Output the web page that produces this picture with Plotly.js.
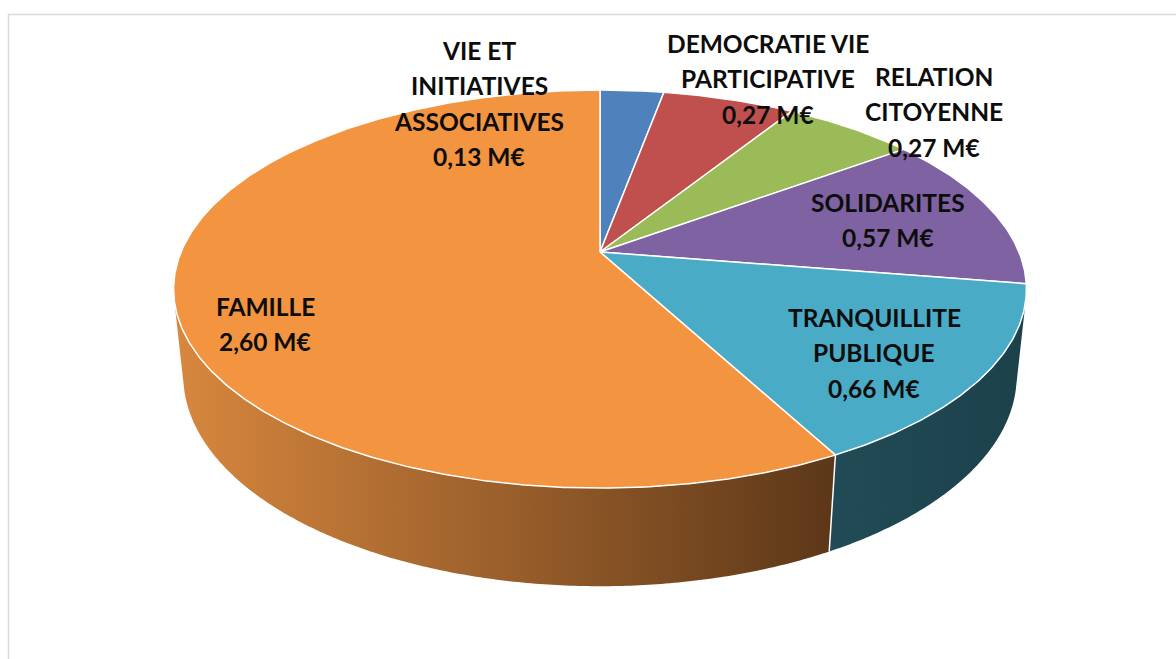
<!DOCTYPE html>
<html>
<head>
<meta charset="utf-8">
<script src="https://cdn.plot.ly/plotly-3.0.1.min.js"></script>
<style>html,body{margin:0;padding:0;background:#fff;}#chart{width:1176px;height:659px;}</style>
</head>
<body>
<div id="chart"></div>
<script>
// ---- data ----
const categories = ["VIE ET INITIATIVES ASSOCIATIVES", "DEMOCRATIE VIE PARTICIPATIVE", "RELATION CITOYENNE", "SOLIDARITES", "TRANQUILLITE PUBLIQUE", "FAMILLE"];
const labelLines = [["VIE ET", "INITIATIVES", "ASSOCIATIVES"], ["DEMOCRATIE VIE", "PARTICIPATIVE"], ["RELATION", "CITOYENNE"], ["SOLIDARITES"], ["TRANQUILLITE", "PUBLIQUE"], ["FAMILLE"]];
const values = [0.13, 0.27, 0.27, 0.57, 0.66, 2.60];
const unit = " M€";

// ---- style ----
const topColors = ["#4F81BD", "#C0504D", "#9BBB59", "#7E62A1", "#4AABC6", "#F39441"];
const sideColors = [
  [[0, "#2C4A6E"], [1, "#1E3550"]],
  [[0, "#7A2E2C"], [1, "#55201F"]],
  [[0, "#5E7434"], [1, "#425226"]],
  [[0, "#4C3A63"], [1, "#352846"]],
  [[0, "#214B56"], [1, "#1C414B"]],
  [[0, "#D8873E"], [1, "#5C3718"]]
];
const labelPos = [[479, 50], [768, 43], [934, 76], [888, 202], [874, 317], [265, 306]];
const lineGap = 35.5;

// projection of a tilted disc (perspective)
const cx = 600, cy = 252, f = 1998, sA = 0.4585, cA = Math.sqrt(1 - sA * sA), D = 4.769, H = 0.2347;
function proj(deg, Y) {
  const t = deg * Math.PI / 180;
  const X = Math.sin(t), Z = Math.cos(t);
  const yc = Y * cA + Z * sA;
  const zc = D + Z * cA - Y * sA;
  return [cx + f * X / zc, cy - f * yc / zc];
}
const visMin = Math.acos(-1 / (D * cA)) * 180 / Math.PI;
const visMax = 360 - visMin;

const total = values.reduce((a, b) => a + b, 0);
const bounds = [0];
values.forEach(v => bounds.push(bounds[bounds.length - 1] + v / total * 360));

function arc(a0, a1, Y) {
  const pts = [];
  const n = Math.max(2, Math.ceil(Math.abs(a1 - a0) / 0.5));
  for (let k = 0; k <= n; k++) pts.push(proj(a0 + (a1 - a0) * k / n, Y));
  return pts;
}

const traces = [];
// sides
values.forEach((v, i) => {
  const a0 = Math.max(bounds[i], visMin), a1 = Math.min(bounds[i + 1], visMax);
  if (a1 <= a0) return;
  const pts = arc(a0, a1, 0).concat(arc(a1, a0, -H));
  pts.push(pts[0]);
  traces.push({
    type: "scatter", mode: "none", x: pts.map(p => p[0]), y: pts.map(p => p[1]),
    fill: "toself", fillcolor: sideColors[i][0][1],
    fillgradient: {type: "horizontal", colorscale: sideColors[i]},
    hoverinfo: "skip", showlegend: false
  });
});
// vertical edges between visible sides
bounds.forEach(b => {
  if (b > visMin && b < visMax) {
    const p = proj(b, 0), q = proj(b, -H);
    traces.push({type: "scatter", mode: "lines", x: [p[0], q[0]], y: [p[1], q[1]],
      line: {color: "#FFFFFF", width: 1.5}, hoverinfo: "skip", showlegend: false});
  }
});
// tops
values.forEach((v, i) => {
  const apex = [cx, cy];
  const all = [apex].concat(arc(bounds[i], bounds[i + 1], 0), [apex]);
  traces.push({
    type: "scatter", mode: "lines", x: all.map(p => p[0]), y: all.map(p => p[1]),
    fill: "toself", fillcolor: topColors[i], line: {color: "#FFFFFF", width: 1.5},
    name: categories[i], hoverinfo: "skip", showlegend: false
  });
});

// labels
const annotations = [];
values.forEach((v, i) => {
  const lines = labelLines[i].concat([v.toFixed(2).replace(".", ",") + unit]);
  lines.forEach((t, k) => {
    annotations.push({
      x: labelPos[i][0], y: labelPos[i][1] + k * lineGap, xref: "x", yref: "y",
      text: "<b>" + t + "</b>", showarrow: false, xanchor: "center", yanchor: "middle",
      font: {family: "Lato, 'Open Sans', sans-serif", size: 24.5, color: "#0D0D0D"}
    });
  });
});

const layout = {
  width: 1176, height: 659, margin: {l: 0, r: 0, t: 0, b: 0},
  paper_bgcolor: "#FFFFFF", plot_bgcolor: "#FFFFFF",
  xaxis: {range: [0, 1176], visible: false, fixedrange: true},
  yaxis: {range: [659, 0], visible: false, fixedrange: true},
  showlegend: false, hovermode: false,
  annotations: annotations,
  shapes: [{type: "rect", xref: "x", yref: "y", x0: 8.5, y0: 14.5, x1: 1185, y1: 670,
    line: {color: "#D9D9D9", width: 1.5}, layer: "below"}]
};
Plotly.newPlot("chart", traces, layout, {displayModeBar: false, staticPlot: true});
</script>
</body>
</html>
